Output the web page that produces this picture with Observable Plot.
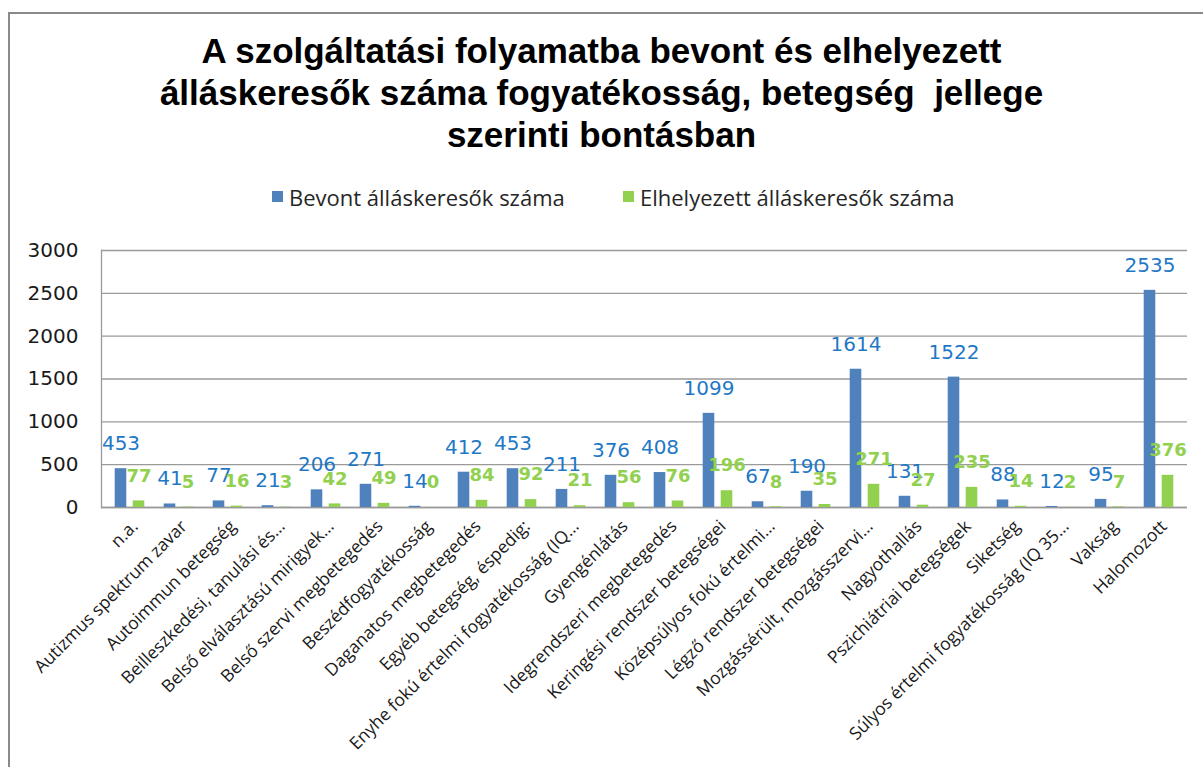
<!DOCTYPE html>
<html><head><meta charset="utf-8">
<script src="https://cdn.jsdelivr.net/npm/d3@7"></script>
<script src="https://cdn.jsdelivr.net/npm/@observablehq/plot@0.6"></script>
<style>
body{margin:0;background:#fff;}
#wrap{position:relative;width:1203px;height:767px;overflow:hidden;background:#fff;}
#frame{position:absolute;left:8px;top:12px;right:-10px;bottom:-10px;border-left:2px solid #8a8a8a;border-top:2px solid #8a8a8a;z-index:5;pointer-events:none;}
#title{position:absolute;left:0;top:30px;width:1203px;text-align:center;font:bold 35px "Liberation Sans",Arial,sans-serif;line-height:42px;color:#000;white-space:pre;}
.lg{position:absolute;top:182px;font:22px "Open Sans",sans-serif;color:#262626;line-height:30px;white-space:nowrap;}
.sw{position:absolute;top:191px;width:11px;height:11px;}
#chart{position:absolute;left:0;top:230px;}
</style></head>
<body>
<div id="wrap">
<div id="frame"></div>
<div id="title">A szolgáltatási folyamatba bevont és elhelyezett
álláskeresők száma fogyatékosság, betegség  jellege
szerinti bontásban</div>
<div class="sw" style="left:272px;background:#4f81bd"></div>
<div class="lg" style="left:289px">Bevont álláskeresők száma</div>
<div class="sw" style="left:623px;background:#92d050"></div>
<div class="lg" style="left:640px">Elhelyezett álláskeresők száma</div>
<div id="chart"></div>
</div>
<script>
const categories = [
  "n.a.",
  "Autizmus spektrum zavar",
  "Autoimmun betegség",
  "Beilleszkedési, tanulási és…",
  "Belső elválasztású mirigyek…",
  "Belső szervi megbetegedés",
  "Beszédfogyatékosság",
  "Daganatos megbetegedés",
  "Egyéb betegség, éspedig:",
  "Enyhe fokú értelmi fogyatékosság (IQ…",
  "Gyengénlátás",
  "Idegrendszeri megbetegedés",
  "Keringési rendszer betegségei",
  "Középsúlyos fokú értelmi…",
  "Légző rendszer betegségei",
  "Mozgássérült, mozgásszervi…",
  "Nagyothallás",
  "Pszichiátriai betegségek",
  "Siketség",
  "Súlyos értelmi fogyatékosság (IQ 35…",
  "Vakság",
  "Halomozott"
];
const bevont =      [453, 41, 77, 21, 206, 271, 14, 412, 453, 211, 376, 408, 1099, 67, 190, 1614, 131, 1522, 88, 12, 95, 2535];
const elhelyezett = [77, 5, 16, 3, 42, 49, 0, 84, 92, 21, 56, 76, 196, 8, 35, 271, 27, 235, 14, 2, 7, 376];
const yTicks = [0, 500, 1000, 1500, 2000, 2500, 3000];

const blue = "#4f81bd", green = "#92d050";
const inset = 18.7;

const chart = Plot.plot({
  width: 1203,
  height: 537,
  marginTop: 20,
  marginBottom: 260,
  marginLeft: 101,
  marginRight: 16,
  style: {fontFamily: "'Open Sans', sans-serif", background: "transparent", overflow: "visible"},
  x: {domain: categories, padding: 0, align: 0.5},
  y: {domain: [0, 3000]},
  marks: [
    Plot.gridY(yTicks, {stroke: "#9a9a9a", strokeOpacity: 1, strokeWidth: 1.3}),
    Plot.frame({anchor: "left", stroke: "#9a9a9a", strokeWidth: 1.3}),
    Plot.ruleY([0], {stroke: "#9a9a9a", strokeWidth: 1.3}),
    Plot.axisY(yTicks, {tickSize: 0, tickPadding: 23, tickFormat: d => String(d), fontSize: 20, fontFamily: "DejaVu Sans", fill: "#1a1a1a", label: null}),
    Plot.axisX({tickSize: 0, tickPadding: 16, tickRotate: -45, fontSize: 17.5, fill: "#1a1a1a", label: null, dx: 5}),
    Plot.barY(categories, {x: d => d, y: (d, i) => bevont[i], fill: blue, insetLeft: inset, insetRight: inset, dx: -9}),
    Plot.barY(categories, {x: d => d, y: (d, i) => elhelyezett[i], fill: green, insetLeft: inset, insetRight: inset, dx: 9}),
    Plot.text(categories, {x: d => d, y: (d, i) => bevont[i], text: (d, i) => String(bevont[i]), dx: -9, dy: -25, fill: "#1f78c6", fontSize: 20, fontFamily: "DejaVu Sans", lineAnchor: "middle"}),
    Plot.text(categories, {x: d => d, y: (d, i) => elhelyezett[i], text: (d, i) => String(elhelyezett[i]), dx: 9, dy: -25, fill: green, fontSize: 18, fontWeight: "bold", fontFamily: "DejaVu Sans", lineAnchor: "middle"})
  ]
});
document.getElementById("chart").appendChild(chart);
</script>
</body></html>
